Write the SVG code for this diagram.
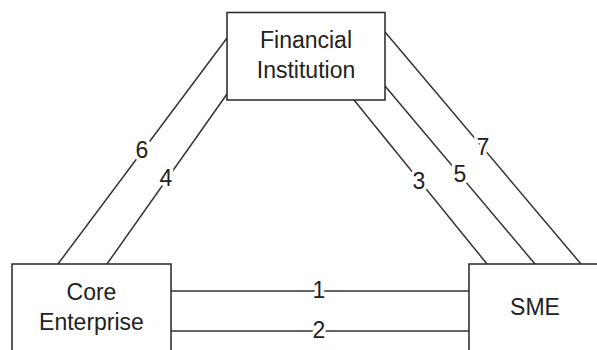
<svg xmlns="http://www.w3.org/2000/svg" width="597" height="350" viewBox="0 0 597 350">
  <style>
    .box { fill: #fff; stroke: #262626; stroke-width: 1.5; }
    .lbl { font-family: "Liberation Sans", Arial, sans-serif; font-size: 23px; fill: #222; text-anchor: middle; }
    .num { font-family: "Liberation Sans", Arial, sans-serif; font-size: 23px; fill: #222; text-anchor: middle;
           stroke: #fff; stroke-width: 7; paint-order: stroke; stroke-linejoin: round; }
    .link { stroke: #333; stroke-width: 1.5; fill: none; }
  </style>
  <rect width="597" height="350" fill="#fff"/>

  <!-- relationship links between the three parties -->
  <g id="connectors">
    <line class="link" x1="171" y1="291" x2="469" y2="291"/>
    <line class="link" x1="171" y1="331" x2="469" y2="331"/>
    <line class="link" x1="227" y1="38" x2="58" y2="264"/>
    <line class="link" x1="227" y1="94" x2="107" y2="264"/>
    <line class="link" x1="354" y1="100" x2="487" y2="264"/>
    <line class="link" x1="385" y1="86" x2="535" y2="264"/>
    <line class="link" x1="385" y1="32" x2="581" y2="264"/>
    <text class="num" x="319" y="298">1</text>
    <text class="num" x="319" y="338">2</text>
    <text class="num" x="419" y="189">3</text>
    <text class="num" x="166" y="186">4</text>
    <text class="num" x="460" y="182">5</text>
    <text class="num" x="142" y="158">6</text>
    <text class="num" x="483" y="155">7</text>
  </g>

  <g id="financial-institution">
    <rect class="box" x="227" y="12.5" width="158" height="87.5"/>
    <text class="lbl" x="306" y="48">Financial</text>
    <text class="lbl" x="306" y="78">Institution</text>
  </g>

  <g id="core-enterprise">
    <rect class="box" x="12" y="264" width="159" height="90"/>
    <text class="lbl" x="91.5" y="300">Core</text>
    <text class="lbl" x="91.5" y="330">Enterprise</text>
  </g>

  <g id="sme">
    <rect class="box" x="469" y="264" width="134" height="90"/>
    <text class="lbl" x="535" y="315">SME</text>
  </g>
</svg>
